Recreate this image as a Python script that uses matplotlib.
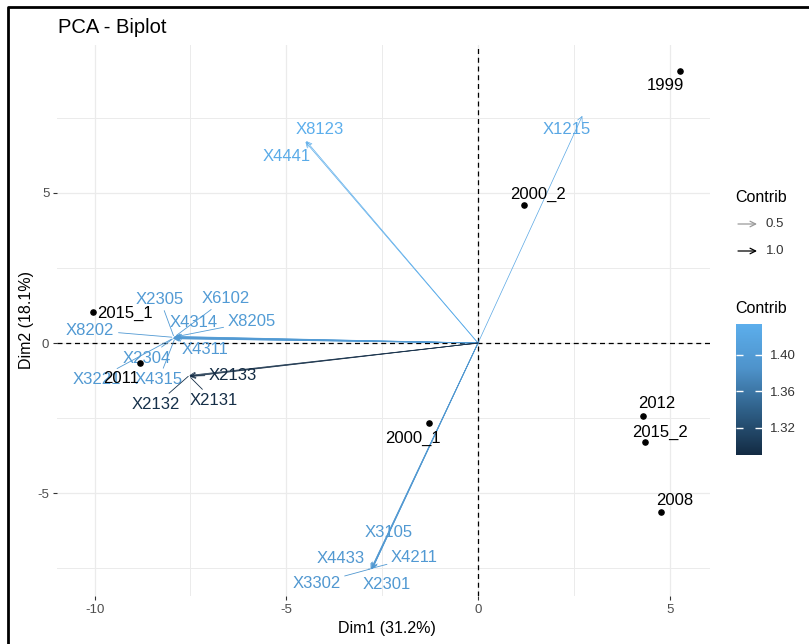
import numpy as np
import matplotlib.pyplot as plt
from matplotlib.colors import LinearSegmentedColormap, Normalize
from matplotlib.cm import ScalarMappable

plt.rcParams['font.family'] = ['Liberation Sans', 'DejaVu Sans']
plt.rcParams['axes.unicode_minus'] = False

# individuals (years)
ind_names = ['1999', '2000_2', '2015_1', '2011', '2000_1', '2012', '2015_2', '2008']
ind_x = [5.28, 1.19, -10.05, -8.81, -1.27, 4.30, 4.35, 4.77]
ind_y = [9.07, 4.60, 1.03, -0.67, -2.67, -2.43, -3.30, -5.63]

# variables: coordinates and contribution
var_names = ['X8123', 'X4441', 'X1215',
             'X3105', 'X4433', 'X4211', 'X3302', 'X2301',
             'X2305', 'X6102', 'X4314', 'X8205', 'X8202', 'X4311', 'X2304', 'X3221', 'X4315',
             'X2133', 'X2131', 'X2132']
var_x = [-4.48, -4.50, 2.72,
         -2.77, -2.80, -2.75, -2.78, -2.76,
         -7.93, -7.90, -7.92, -7.88, -7.95, -7.90, -7.94, -7.96, -7.91,
         -7.51, -7.52, -7.53]
var_y = [6.73, 6.70, 7.57,
         -7.53, -7.55, -7.50, -7.52, -7.54,
         0.20, 0.22, 0.18, 0.21, 0.19, 0.17, 0.16, 0.15, 0.14,
         -1.10, -1.12, -1.08]
var_contrib = [1.434, 1.428, 1.422,
               1.396, 1.395, 1.397, 1.394, 1.396,
               1.399, 1.400, 1.398, 1.401, 1.397, 1.399, 1.398, 1.396, 1.397,
               1.290, 1.293, 1.296]

# repelled label offsets, in pixels
ind_off = {'1999': (-15, -15), '2000_2': (14, 11), '2015_1': (32, -1), '2011': (-19, -15),
           '2000_1': (-16, -15), '2012': (14, 12), '2015_2': (15, 10), '2008': (14, 11)}
var_off = {'X8123': (14, 12), 'X4441': (-19, -15), 'X1215': (-16, -14),
           'X3105': (17, 36), 'X4433': (-30, 11), 'X4211': (42, 11), 'X3302': (-55, -15),
           'X2301': (15, -15),
           'X2305': (-14, 38), 'X6102': (51, 38), 'X4314': (19, 15), 'X8205': (76, 15),
           'X8202': (-83, 7), 'X4311': (30, -12), 'X2304': (-27, -20), 'X3221': (-76, -41),
           'X4315': (-16, -41),
           'X2133': (43, 1), 'X2131': (24, -24), 'X2132': (-33, -29)}

cmap = LinearSegmentedColormap.from_list('contrib', ['#132B43', '#2E5E86', '#4E93CB', '#5CAEEC'])
norm = Normalize(min(var_contrib), max(var_contrib))

W, H = 809, 644
fig = plt.figure(figsize=(W / 100, H / 100), dpi=100)
ax = fig.add_axes([57 / W, 1 - 596 / H, (710 - 57) / W, (596 - 45) / H])
ax.set_xlim(-10.98, 6.05)
ax.set_ylim(-8.43, 9.93)
for s in ax.spines.values():
    s.set_visible(False)
ax.set_xticks([-10, -5, 0, 5])
ax.set_yticks([-5, 0, 5])
ax.set_xticks([-7.5, -2.5, 2.5], minor=True)
ax.set_yticks([-7.5, -2.5, 2.5, 7.5], minor=True)
ax.grid(True, which='major', color='#EBEBEB', lw=0.9)
ax.grid(True, which='minor', color='#EBEBEB', lw=0.7)
ax.set_axisbelow(True)
ax.tick_params(which='major', length=3, width=0.8, color='#333333', labelsize=9.5,
               labelcolor='#4D4D4D', pad=2.5)
ax.tick_params(which='minor', length=0)
ax.axhline(0, color='black', lw=0.9, ls=(0, (4, 3)), zorder=1)
ax.axvline(0, color='black', lw=0.9, ls=(0, (4, 3)), zorder=1)

# variable arrows
for name, vx, vy, c in zip(var_names, var_x, var_y, var_contrib):
    col = cmap(norm(c))
    ax.annotate('', xy=(vx, vy), xytext=(0, 0),
                arrowprops=dict(arrowstyle='->', color=col, lw=0.5,
                                shrinkA=0, shrinkB=0, mutation_scale=9), zorder=2)

for name, vx, vy, c in zip(var_names, var_x, var_y, var_contrib):
    col = cmap(norm(c))
    dx, dy = var_off[name]
    seg = None
    if np.hypot(dx, dy) > 25:
        seg = dict(arrowstyle='-', color=col, lw=0.6, shrinkA=1, shrinkB=1)
    ax.annotate(name, xy=(vx, vy), xytext=(dx, dy), textcoords='offset pixels',
                ha='center', va='center', fontsize=12, color=col, arrowprops=seg, zorder=3)

# individuals
ax.scatter(ind_x, ind_y, s=14, color='black', zorder=4)
for name, px, py in zip(ind_names, ind_x, ind_y):
    dx, dy = ind_off[name]
    ax.annotate(name, xy=(px, py), xytext=(dx, dy), textcoords='offset pixels',
                ha='center', va='center', fontsize=12, color='black', zorder=4)

# overlay in pixel coordinates for titles, legend and frame
ov = fig.add_axes([0, 0, 1, 1], zorder=-1)
ov.set_xlim(0, W)
ov.set_ylim(H, 0)
ov.axis('off')
ov.plot([8, 8, W], [H, 7, 7], color='black', lw=2)
ov.text(58, 27, 'PCA - Biplot', fontsize=14.5, ha='left', va='center')
ov.text(387, 628, 'Dim1 (31.2%)', fontsize=11.5, ha='center', va='center')
ov.text(27, 320, 'Dim2 (18.1%)', fontsize=11.5, ha='center', va='center', rotation=90)

ov.text(735, 197, 'Contrib', fontsize=11.5, ha='left', va='center')
for yy, lab, col in [(224, '0.5', '#9A9A9A'), (251, '1.0', 'black')]:
    ov.annotate('', xy=(757, yy), xytext=(738, yy),
                arrowprops=dict(arrowstyle='->', color=col, lw=0.9,
                                shrinkA=0, shrinkB=0, mutation_scale=10))
    ov.text(766, yy, lab, fontsize=9.5, ha='left', va='center', color='#333333')
ov.text(735, 308, 'Contrib', fontsize=11.5, ha='left', va='center')

cax = fig.add_axes([736 / W, 1 - 455 / H, 26 / W, 131 / H])
cb = fig.colorbar(ScalarMappable(norm=norm, cmap=cmap), cax=cax)
cb.outline.set_visible(False)
cb.set_ticks([1.32, 1.36, 1.40])
cb.set_ticklabels(['1.32', '1.36', '1.40'])
cax.tick_params(direction='in', length=5, width=1, color='white', left=True, right=True,
                labelsize=9.5, labelcolor='#333333', pad=6)

fig.savefig('out.png', dpi=100)
